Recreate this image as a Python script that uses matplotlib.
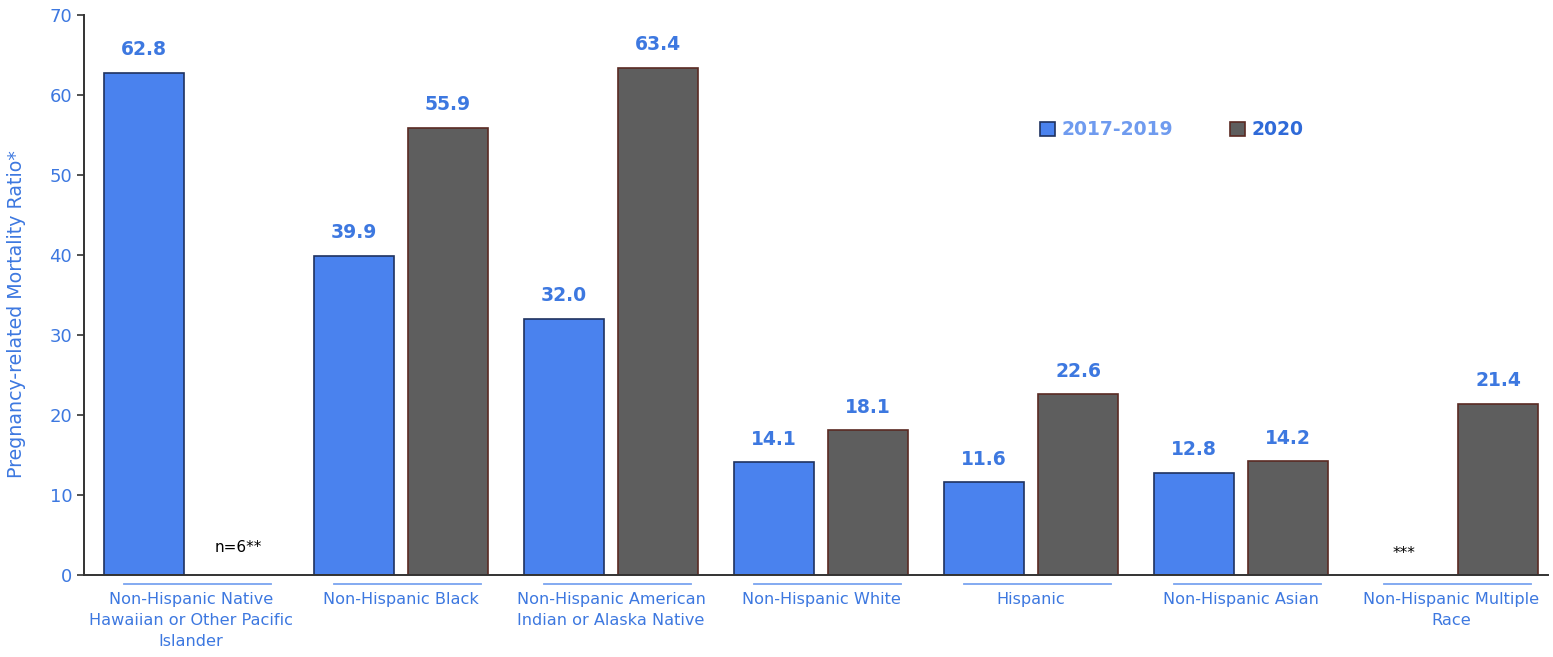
import numpy as np
import matplotlib
matplotlib.use("Agg")
import matplotlib.pyplot as plt

categories = ["Non-Hispanic Native\nHawaiian or Other Pacific\nIslander",
              "Non-Hispanic Black",
              "Non-Hispanic American\nIndian or Alaska Native",
              "Non-Hispanic White",
              "Hispanic",
              "Non-Hispanic Asian",
              "Non-Hispanic Multiple\nRace"]
ratio_2017_2019 = [62.8, 39.9, 32.0, 14.1, 11.6, 12.8, np.nan]
ratio_2020 = [np.nan, 55.9, 63.4, 18.1, 22.6, 14.2, 21.4]
notes = {(0, "2020"): "n=6**", (6, "2017-2019"): "***"}

blue = "#4A82EE"
gray = "#5E5E5E"
txt_blue = "#3D78E0"

plt.rcParams['font.family'] = ['DejaVu Sans']
fig = plt.figure(figsize=(15.53, 6.57), dpi=100)
ax = fig.add_axes([0.0541, 0.1248, 0.9427, 0.8522])

x = np.arange(len(categories))
w = 0.381
off = 0.224
ax.bar(x - off, ratio_2017_2019, w, color=blue, edgecolor="#1F3260", linewidth=1.2, label="2017-2019")
ax.bar(x + off, ratio_2020, w, color=gray, edgecolor="#5A2A22", linewidth=1.2, label="2020")

for xs, vals in ((x - off, ratio_2017_2019), (x + off, ratio_2020)):
    for xi, v in zip(xs, vals):
        if not np.isnan(v):
            ax.text(xi, v + 2.9, f"{v:.1f}", ha="center", va="center",
                    color=txt_blue, fontsize=13.5, fontweight="bold")

for (i, series), s in notes.items():
    xi = i + off if series == "2020" else i - off
    yv = 3.4 if series == "2020" else 2.75
    ax.text(xi, yv, s, ha="center", va="center", fontsize=11, color="black")

ax.set_xlim(-0.5095, 6.462)
ax.set_ylim(0, 70)
ax.set_yticks(range(0, 71, 10))
ax.tick_params(axis="y", labelsize=13, labelcolor=txt_blue, length=5, color="#333333", width=1.2)
ax.set_xticks(x)
ax.set_xticklabels(categories, fontsize=11.6, color=txt_blue, linespacing=1.5)
ax.tick_params(axis="x", length=0, pad=12)
ax.set_ylabel("Pregnancy-related Mortality Ratio*", color=txt_blue, fontsize=13.7)
ax.yaxis.set_label_coords(-0.0396, 0.466)

for side in ("top", "right"):
    ax.spines[side].set_visible(False)
for side in ("left", "bottom"):
    ax.spines[side].set_color("#333333")
    ax.spines[side].set_linewidth(1.4)

# blue lines under category groups
for xi in x:
    ax.plot([xi - 0.32, xi + 0.38], [-1.1, -1.1], color="#7AA4F0", lw=1.3,
            clip_on=False)

leg = ax.legend(loc="center left", bbox_to_anchor=(0.653, 0.795), ncol=2, frameon=False,
                borderpad=0, borderaxespad=0,
                prop={"size": 13.5, "weight": "bold"}, handlelength=0.8, handleheight=0.8,
                columnspacing=3.0, handletextpad=0.37)
leg.get_texts()[0].set_color("#6F9BEF")
leg.get_texts()[1].set_color("#2F6AD8")

fig.savefig("out.png", dpi=100)
